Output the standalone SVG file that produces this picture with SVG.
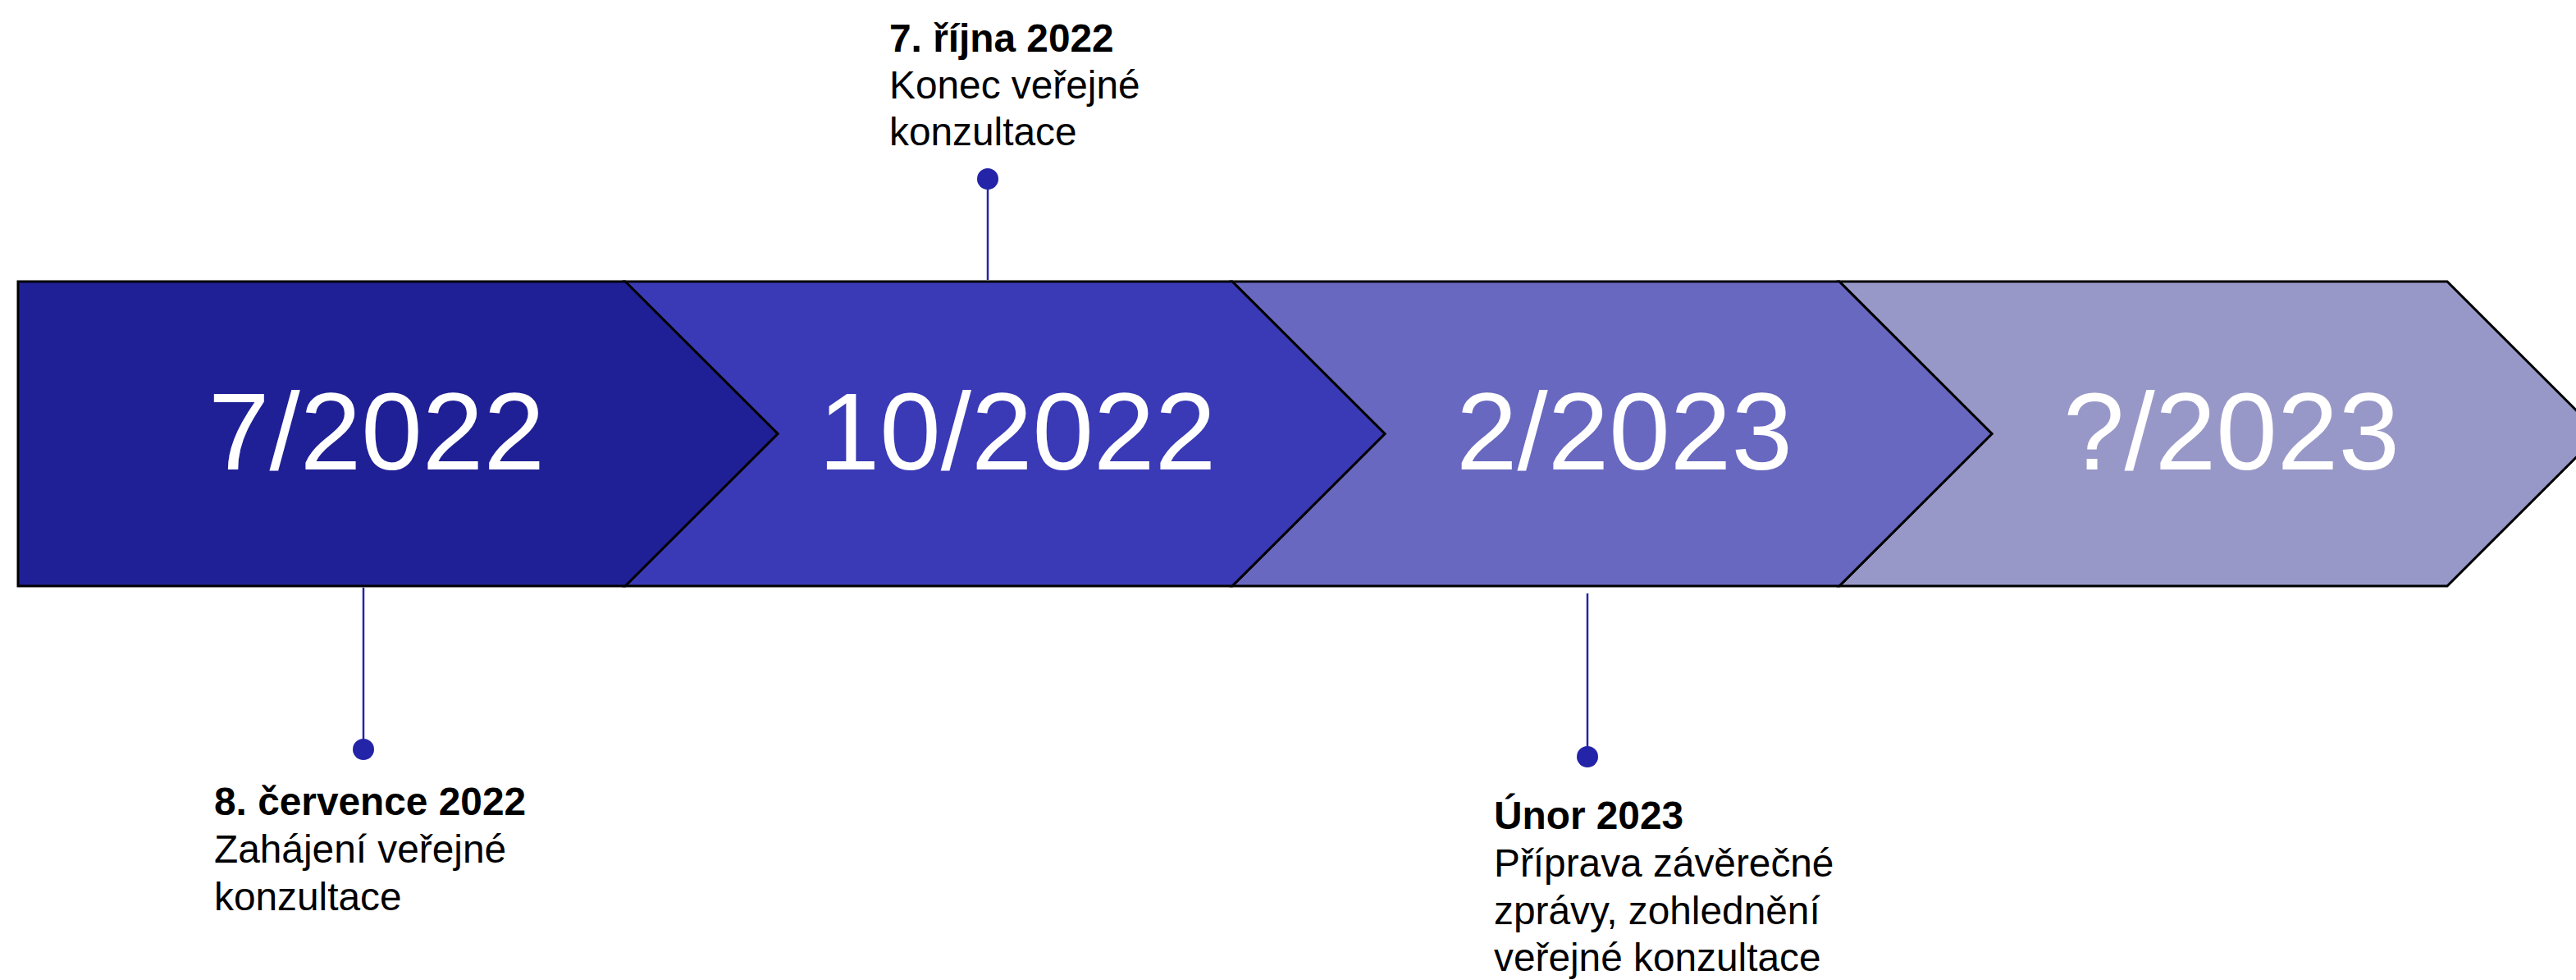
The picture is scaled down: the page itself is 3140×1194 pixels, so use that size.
<svg xmlns="http://www.w3.org/2000/svg" width="3140" height="1194" viewBox="0 0 3140 1194">
<style>
.shape{stroke:#000;stroke-width:3;stroke-linejoin:miter}
.big{font-family:"Liberation Sans",Arial,sans-serif;font-size:134px;fill:#fff;text-anchor:middle}
.lbl{font-family:"Liberation Sans",Arial,sans-serif;font-size:47.8px;fill:#000}
.b{font-weight:bold}
.conn{stroke:#2424A8;stroke-width:2.5;fill:none}
.dot{fill:#2424A8}
</style>
<rect width="3140" height="1194" fill="#fff"/>
<g id="phase4">
<polygon class="shape" fill="#9898C8" points="2242,343 2983,343 3169,528.5 2983,714 2242,714 2428,528.5"/>
<text class="big" x="2720" y="572">?/2023</text>
</g>
<g id="phase3">
<polygon class="shape" fill="#6868C0" points="1502,343 2242,343 2428,528.5 2242,714 1502,714 1688,528.5"/>
<text class="big" x="1980" y="572">2/2023</text>
</g>
<g id="phase2">
<polygon class="shape" fill="#3A3AB6" points="762,343 1502,343 1688,528.5 1502,714 762,714 948,528.5"/>
<text class="big" x="1240" y="572">10/2022</text>
</g>
<g id="phase1">
<polygon class="shape" fill="#202096" points="22,343 762,343 948,528.5 762,714 22,714"/>
<text class="big" x="459" y="572">7/2022</text>
</g>
<g id="connectors">
<line class="conn" x1="443" y1="716" x2="443" y2="913"/>
<circle class="dot" cx="443" cy="913" r="13"/>
<line class="conn" x1="1204" y1="341" x2="1204" y2="218"/>
<circle class="dot" cx="1204" cy="218" r="13"/>
<line class="conn" x1="1935" y1="723" x2="1935" y2="922"/>
<circle class="dot" cx="1935" cy="922" r="13"/>
</g>
<g id="event-july">
<text class="lbl b" x="261" y="993">8. července 2022</text>
<text class="lbl" x="261" y="1051">Zahájení veřejné</text>
<text class="lbl" x="261" y="1109">konzultace</text>
</g>
<g id="event-october">
<text class="lbl b" x="1084" y="63">7. října 2022</text>
<text class="lbl" x="1084" y="120">Konec veřejné</text>
<text class="lbl" x="1084" y="177">konzultace</text>
</g>
<g id="event-february">
<text class="lbl b" x="1821" y="1010">Únor 2023</text>
<text class="lbl" x="1821" y="1068">Příprava závěrečné</text>
<text class="lbl" x="1821" y="1126">zprávy, zohlednění</text>
<text class="lbl" x="1821" y="1183">veřejné konzultace</text>
</g>
</svg>
